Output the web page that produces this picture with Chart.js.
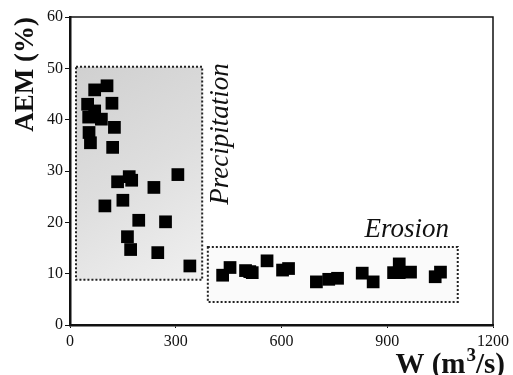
<!DOCTYPE html>
<html><head><meta charset="utf-8">
<script src="https://cdn.jsdelivr.net/npm/chart.js@4/dist/chart.umd.min.js"></script>
<style>html,body{margin:0;padding:0;background:#fff}#wrap{width:513px;height:375px}</style>
</head><body><div id="wrap"><canvas id="c" width="513" height="375"></canvas></div>
<script>
const flowW = [70,105,50,119,70,53,89,126,54,58,121,135,168,175,238,306,99,150,195,271,163,172,249,340,
  433,454,498,517,510,559,603,620,699,734,759,829,860,918,934,934,966,1036,1051];
const aemPct = [45.8,46.6,43.0,43.2,41.7,40.5,40.1,38.5,37.5,35.5,34.6,27.9,28.9,28.2,26.8,29.3,23.2,24.3,20.4,20.1,17.2,14.7,14.1,11.5,
  9.7,11.2,10.6,10.2,10.4,12.5,10.7,11.0,8.4,8.9,9.1,10.1,8.4,10.2,11.9,10.2,10.3,9.4,10.3];
const xTicks = [0,300,600,900,1200];
const yTicks = [0,10,20,30,40,50,60];
// region boxes: [xMin, xMax, yMin, yMax]
const precipBox = [17,375,8.8,50.3];
const erosionBox = [391,1100,4.5,15.2];
const regionLabels = ['Precipitation','Erosion'];
const xTitleParts = ['W (m','3','/s)'];

const serif = '"Liberation Serif","Times New Roman",serif';

const boxes = {
  id:'boxes',
  beforeDatasetsDraw(chart){
    const {ctx, scales:{x,y}} = chart;
    ctx.save();
    let [a,b,c,d] = precipBox;
    let l=x.getPixelForValue(a), r=x.getPixelForValue(b), t=y.getPixelForValue(d), bt=y.getPixelForValue(c);
    const g = ctx.createLinearGradient(l,t,r,bt);
    g.addColorStop(0,'#d0d0d0');
    g.addColorStop(0.5,'#dedede');
    g.addColorStop(1,'#f0f0f0');
    ctx.fillStyle=g;
    ctx.fillRect(l,t,r-l,bt-t);
    ctx.setLineDash([2,2]);
    ctx.lineWidth=2;
    ctx.strokeStyle='#222';
    ctx.strokeRect(l,t,r-l,bt-t);
    [a,b,c,d] = erosionBox;
    l=x.getPixelForValue(a); r=x.getPixelForValue(b); t=y.getPixelForValue(d); bt=y.getPixelForValue(c);
    ctx.fillStyle='#fafafa';
    ctx.fillRect(l,t,r-l,bt-t);
    ctx.strokeRect(l,t,r-l,bt-t);
    ctx.setLineDash([]);
    ctx.fillStyle='#111';
    ctx.font='italic 27px '+serif;
    ctx.textAlign='center';
    ctx.textBaseline='middle';
    ctx.save();
    ctx.translate(x.getPixelForValue(precipBox[1])+19, y.getPixelForValue(37.2));
    ctx.rotate(-Math.PI/2);
    ctx.fillText(regionLabels[0],0,0);
    ctx.restore();
    ctx.textBaseline='alphabetic';
    ctx.fillText(regionLabels[1], x.getPixelForValue(955), y.getPixelForValue(17.2));
    const ca = chart.chartArea;
    ctx.strokeStyle='#111';
    ctx.lineWidth=1.5;
    ctx.beginPath();
    ctx.moveTo(ca.left, ca.top); ctx.lineTo(ca.right, ca.top); ctx.lineTo(ca.right, ca.bottom);
    ctx.stroke();
    ctx.textAlign='left';
    ctx.textBaseline='alphabetic';
    const big='bold 29px '+serif, small='bold 19px '+serif;
    ctx.font=big; const w1=ctx.measureText(xTitleParts[0]).width, w3=ctx.measureText(xTitleParts[2]).width;
    ctx.font=small; const w2=ctx.measureText(xTitleParts[1]).width;
    let px = 505 - (w1+w2+w3+1), base = 373;
    ctx.font=big; ctx.fillText(xTitleParts[0],px,base); px+=w1+1;
    ctx.font=small; ctx.fillText(xTitleParts[1],px,base-12); px+=w2;
    ctx.font=big; ctx.fillText(xTitleParts[2],px,base);
    ctx.restore();
  }
};

new Chart(document.getElementById('c'), {
  type:'scatter',
  data:{datasets:[{
    data: flowW.map((v,i)=>({x:v,y:aemPct[i]})),
    pointStyle:'rect', pointRadius:9, pointHoverRadius:9,
    backgroundColor:'#000', borderColor:'#000', borderWidth:0
  }]},
  options:{
    responsive:false, animation:false,
    layout:{padding:{top:17,right:14,left:10,bottom:0}},
    plugins:{legend:{display:false},tooltip:{enabled:false}},
    scales:{
      x:{type:'linear',min:0,max:1200,
        afterBuildTicks(s){s.ticks=xTicks.map(v=>({value:v}));},
        afterFit(s){s.height=50;},
        border:{color:'#111',width:2.5},
        grid:{display:true,drawOnChartArea:false,tickLength:3,color:'#111'},
        ticks:{color:'#111',font:{family:serif,size:16},padding:4,maxRotation:0,callback:v=>String(v)}
      },
      y:{type:'linear',min:0,max:60,
        afterBuildTicks(s){s.ticks=yTicks.map(v=>({value:v}));},
        afterFit(s){s.width=60;},
        border:{color:'#111',width:2.5},
        grid:{display:true,drawOnChartArea:false,tickLength:5,color:'#111'},
        ticks:{color:'#111',font:{family:serif,size:16},padding:2,callback:v=>String(v)},
        title:{display:true,text:'AEM (%)',align:'end',color:'#111',
          font:{family:serif,size:27,weight:'bold'},padding:{top:0,bottom:0}}
      }
    }
  },
  plugins:[boxes]
});
</script></body></html>
